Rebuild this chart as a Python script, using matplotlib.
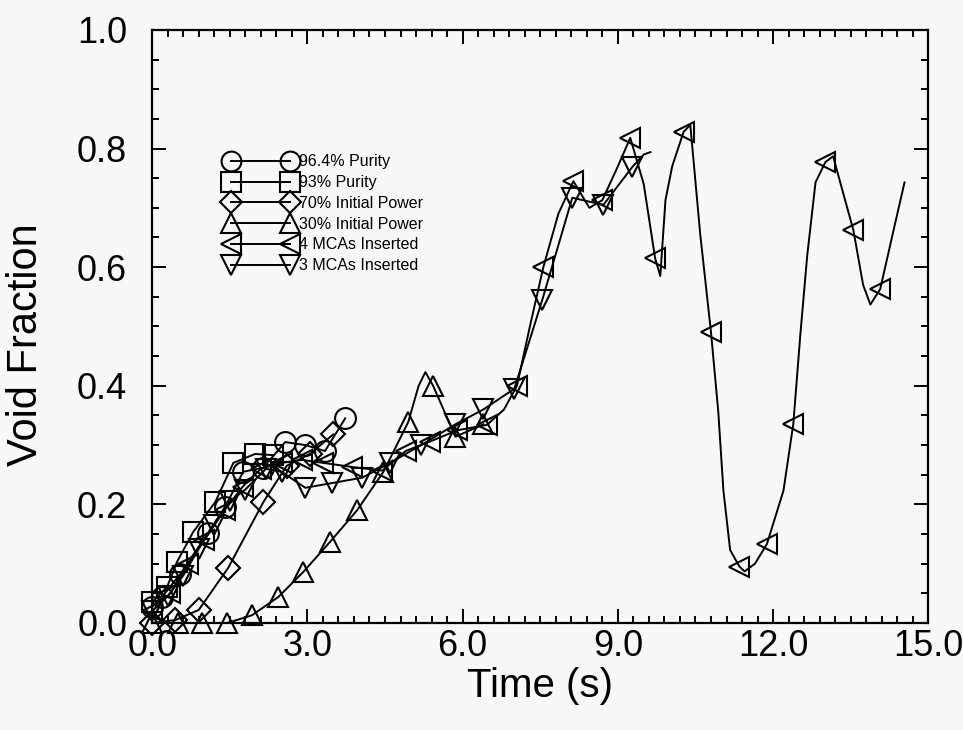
import numpy as np
import matplotlib
matplotlib.use("Agg")
import matplotlib.pyplot as plt
from matplotlib.ticker import MultipleLocator

# ---------------- data ----------------
labels = ["96.4% Purity", "93% Purity", "70% Initial Power",
          "30% Initial Power", "4 MCAs Inserted", "3 MCAs Inserted"]

t_964 = [0.0, 0.19, 0.54, 1.08, 1.41, 1.76, 2.15, 2.57, 2.96, 3.34, 3.73]
v_964 = [0.027, 0.044, 0.082, 0.152, 0.196, 0.255, 0.262, 0.305, 0.30, 0.29, 0.345]

t_93 = [0.0, 0.29, 0.48, 0.79, 1.22, 1.57, 1.99, 2.34]
v_93 = [0.035, 0.061, 0.103, 0.153, 0.204, 0.27, 0.285, 0.283]

t_70 = [0.0, 0.45, 0.9, 1.47, 2.15, 2.6, 3.05, 3.5]
v_70 = [0.0, 0.005, 0.022, 0.093, 0.204, 0.265, 0.285, 0.318]

t_30 = [0.0, 0.5, 0.97, 1.45, 1.93, 2.44, 2.92, 3.44, 3.96, 4.47, 4.95,
        5.15, 5.28, 5.43, 5.86, 6.4]
v_30 = [0.0, 0.0, 0.0, 0.0, 0.013, 0.044, 0.086, 0.137, 0.19, 0.255, 0.339,
        0.40, 0.423, 0.40, 0.314, 0.335]
mk_30 = [0, 1, 2, 3, 4, 5, 6, 7, 8, 9, 10, 13, 14, 15]

t_4m = [0.0, 0.35, 0.7, 1.0, 1.4, 1.75, 2.1, 2.5, 2.9, 3.3, 3.87, 4.45, 4.9,
        5.37, 5.9, 6.47, 6.8, 7.05, 7.3, 7.56, 7.85, 8.14, 8.45, 8.7, 9.0,
        9.24, 9.5, 9.72, 9.82, 9.92, 10.05, 10.27, 10.4, 10.59, 10.8, 10.94,
        11.04, 11.17, 11.35, 11.45, 11.65, 11.88, 12.2, 12.39, 12.53, 12.66,
        12.82, 13.01, 13.16, 13.36, 13.55, 13.74, 13.88, 14.07, 14.33, 14.54]
v_4m = [0.02, 0.05, 0.10, 0.14, 0.19, 0.23, 0.26, 0.27, 0.275, 0.27, 0.263,
        0.257, 0.29, 0.306, 0.325, 0.334, 0.36, 0.40, 0.50, 0.60, 0.69, 0.745,
        0.70, 0.713, 0.77, 0.818, 0.74, 0.615, 0.585, 0.713, 0.77, 0.828,
        0.84, 0.657, 0.49, 0.357, 0.223, 0.123, 0.095, 0.087, 0.10, 0.133,
        0.223, 0.335, 0.49, 0.62, 0.743, 0.777, 0.787, 0.723, 0.663, 0.57,
        0.537, 0.563, 0.663, 0.743]
mk_4m = list(range(0, 16)) + [17, 19, 21, 23, 25, 27, 31, 34, 38, 41, 43, 47, 50, 53]

t_3m = [0.0, 0.3, 0.6, 0.9, 1.2, 1.5, 1.8, 2.2, 2.5, 2.96, 3.48, 4.06, 4.6,
        5.2, 5.86, 6.4, 7.0, 7.54, 8.12, 8.72, 9.28, 9.5, 9.63]
v_3m = [0.02, 0.045, 0.08, 0.125, 0.165, 0.205, 0.225, 0.26, 0.255, 0.228,
        0.236, 0.245, 0.27, 0.30, 0.335, 0.36, 0.395, 0.545, 0.717, 0.705,
        0.769, 0.79, 0.794]
mk_3m = list(range(0, 21))

x_ticks = [0.0, 3.0, 6.0, 9.0, 12.0, 15.0]
y_ticks = [0.0, 0.2, 0.4, 0.6, 0.8, 1.0]

# ---------------- figure ----------------
plt.rcParams['font.family'] = ['Liberation Sans', 'DejaVu Sans']
fig = plt.figure(figsize=(9.63, 7.30), dpi=100)
fig.patch.set_facecolor('#f8f8f8')
ax = fig.add_axes([0.158, 0.1466, 0.806, 0.8124])
ax.set_facecolor('#f8f8f8')

style = dict(color='black', lw=1.4, mfc='none', mec='black', mew=1.5,
             ms=15, clip_on=False)
ax.plot(t_964, v_964, marker='o', label=labels[0], **style)
ax.plot(t_93, v_93, marker='s', label=labels[1], **style)
ax.plot(t_70, v_70, marker='D', label=labels[2], **dict(style, ms=12))
ax.plot(t_30, v_30, marker='^', markevery=mk_30, label=labels[3], **style)
ax.plot(t_4m, v_4m, marker='<', markevery=mk_4m, label=labels[4], **style)
ax.plot(t_3m, v_3m, marker='v', markevery=mk_3m, label=labels[5], **style)

ax.set_xlim(0, 15)
ax.set_ylim(0, 1.0)
ax.set_xticks(x_ticks)
ax.set_xticklabels([f"{v:.1f}" for v in x_ticks])
ax.set_yticks(y_ticks)
ax.set_yticklabels([f"{v:.1f}" for v in y_ticks])
ax.xaxis.set_minor_locator(MultipleLocator(0.3))
ax.yaxis.set_minor_locator(MultipleLocator(0.05))
ax.tick_params(which='both', direction='in', top=True, right=True, width=1.4)
ax.tick_params(which='major', length=10)
ax.tick_params(which='minor', length=5)
ax.tick_params(axis='x', which='major', labelsize=26, pad=4)
ax.tick_params(axis='y', which='major', labelsize=26, pad=18)
for s in ax.spines.values():
    s.set_linewidth(1.6)

ax.set_xlabel("Time (s)", fontsize=29)
ax.set_ylabel("Void Fraction", fontsize=30)
ax.xaxis.set_label_coords(0.5, -0.075)
ax.yaxis.set_label_coords(-0.137, 0.47)

leg = ax.legend(loc='upper left', bbox_to_anchor=(0.095, 0.79),
                frameon=False, fontsize=11.5, numpoints=2,
                handlelength=4.3, handletextpad=0.25, labelspacing=0.36,
                borderpad=0, borderaxespad=0, markerscale=0.95)

fig.savefig("out.png", dpi=100, facecolor=fig.get_facecolor())
